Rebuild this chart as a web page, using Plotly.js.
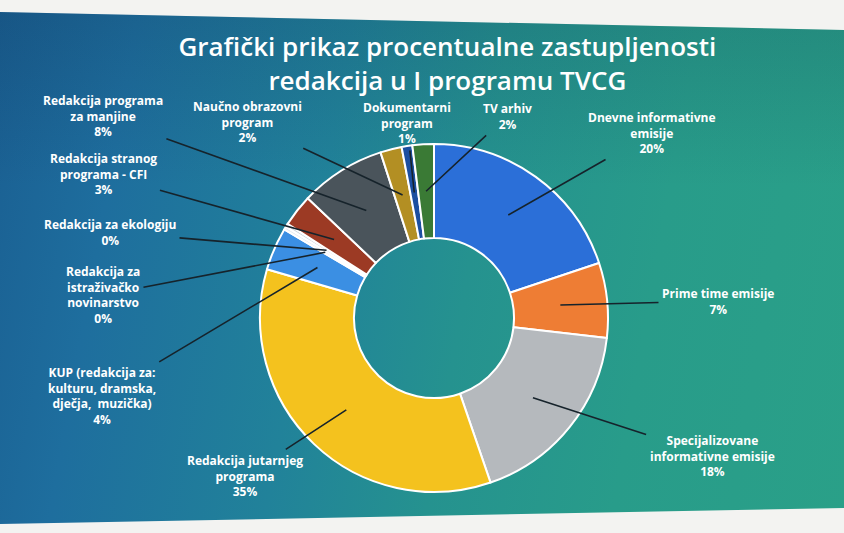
<!DOCTYPE html>
<html><head><meta charset="utf-8">
<script src="https://cdn.plot.ly/plotly-3.0.1.min.js"></script>
<style>
html,body{margin:0;padding:0;background:#f3f3f1;overflow:hidden;}
#slide{position:absolute;left:0;top:0;width:844px;height:533px;
 background:
   linear-gradient(180deg,rgba(10,40,70,0.18) 0%,rgba(10,40,70,0) 35%),
   linear-gradient(100deg,#1a5f92 0%,#1e6e9e 15%,#21829a 38%,#25928f 55%,#289c8a 75%,#2aa088 100%);
 clip-path:polygon(0 12px,844px 30px,844px 508px,0 524px);}
#chart{position:absolute;left:0;top:0;width:844px;height:533px;}
</style></head>
<body><div id="slide"></div><div id="chart"></div>
<script>
// ---- data ----
const categories = [
  'Dnevne informativne<br>emisije',
  'Prime time emisije',
  'Specijalizovane<br>informativne emisije',
  'Redakcija jutarnjeg<br>programa',
  'KUP (redakcija za:<br>kulturu, dramska,<br>dječja,  muzička)',
  'Redakcija za<br>istraživačko<br>novinarstvo',
  'Redakcija za ekologiju',
  'Redakcija stranog<br>programa - CFI',
  'Redakcija programa<br>za manjine',
  'Naučno obrazovni<br>program',
  'Dokumentarni<br>program',
  'TV arhiv'
];
const shares = [20, 7, 18, 35, 4, 0.3, 0.3, 3, 8, 2, 1, 2];

// ---- styling ----
const sliceColors = ['#2b6fd8','#ee7d34','#b5b9bd','#f4c21e','#3b8fe3','#e6edf3','#cdd6de',
  '#9c3a24','#4a545b','#b38f23','#1c4fa0','#3a7a35'];
const labelPos = [[652,133],[718,301],[712,456],[245,476],[102,396],[103,295],[110,232],
  [103,174],[103,116],[247,122],[407,123],[507,116]];

const W = 844, H = 533;
const cx = 434, cy = 318, R = 174, hole = 0.46;
const rMid = R * (1 + hole) / 2;

const total = shares.reduce((a, b) => a + b, 0);
let cum = 0;
const annotations = [];
shares.forEach((v, i) => {
  const mid = (cum + v / 2) / total;
  cum += v;
  const th = mid * 2 * Math.PI;
  const hx = cx + rMid * Math.sin(th);
  const hy = cy - rMid * Math.cos(th);
  annotations.push({
    xref: 'x', yref: 'y', axref: 'x', ayref: 'y',
    x: hx, y: hy, ax: labelPos[i][0], ay: labelPos[i][1],
    text: categories[i] + '<br>' + Math.round(v) + '%',
    showarrow: true, arrowhead: 0, arrowwidth: 1.6, arrowcolor: '#16232b',
    standoff: 0, startstandoff: 2, align: 'center',
    font: {family: 'Open Sans, sans-serif', size: 12, color: '#ffffff', weight: 700}
  });
});

const trace = {
  type: 'pie', values: shares, labels: categories, sort: false,
  direction: 'clockwise', rotation: 0, hole: hole,
  marker: {colors: sliceColors, line: {color: '#ffffff', width: 2}},
  textinfo: 'none', hoverinfo: 'label+percent', showlegend: false,
  domain: {x: [(cx - R) / W, (cx + R) / W], y: [1 - (cy + R) / H, 1 - (cy - R) / H]}
};

const layout = {
  width: W, height: H, margin: {l: 0, r: 0, t: 0, b: 0},
  paper_bgcolor: 'rgba(0,0,0,0)', plot_bgcolor: 'rgba(0,0,0,0)',
  showlegend: false,
  xaxis: {range: [0, W], visible: false, fixedrange: true},
  yaxis: {range: [H, 0], visible: false, fixedrange: true},
  title: {
    text: 'Grafički prikaz procentualne zastupljenosti<br>redakcija u I programu TVCG',
    x: 0.53, xanchor: 'center', y: 1 - 56 / H, yanchor: 'middle',
    font: {family: 'Open Sans, sans-serif', size: 26, color: '#ffffff', weight: 600}
  },
  annotations: annotations
};

Plotly.newPlot('chart', [trace], layout, {displayModeBar: false, staticPlot: true});
</script>
</body></html>
